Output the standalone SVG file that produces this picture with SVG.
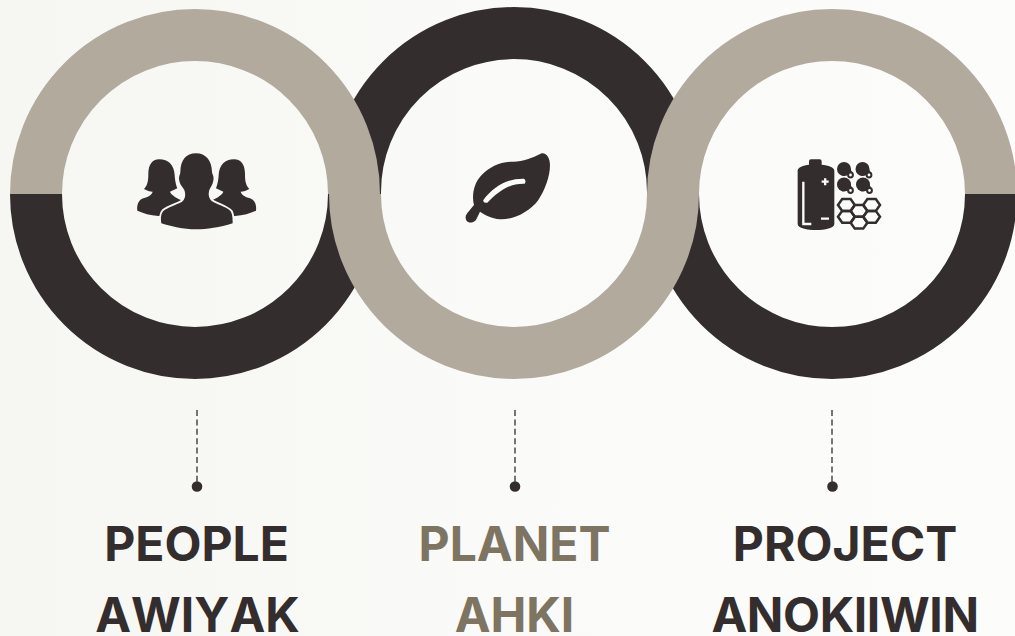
<svg xmlns="http://www.w3.org/2000/svg" width="1015" height="636" viewBox="0 0 1015 636">
<style>
.ring{fill:none;stroke-width:52}
.d{stroke:#332d2e}
.l{stroke:#b2aa9d}
.ic{fill:#332d2e}
.t{font-family:"Inter","Liberation Sans",sans-serif;font-weight:700;font-size:48px;text-anchor:middle;fill:#332d2e;font-kerning:none}
.p{fill:#7d7461}
.dash{stroke:#332d2e;stroke-width:1.3;stroke-dasharray:6 3.4;fill:none}
</style>
<defs>
<linearGradient id="bg" x1="0" x2="1" y1="0" y2="0"><stop offset="0" stop-color="#f6f6f2"/><stop offset=".5" stop-color="#fafaf8"/><stop offset="1" stop-color="#fcfcfa"/></linearGradient>
<g id="woman"><path class="ic" d="M118 58C145 58 162 75 164 105C165 125 170 140 172 145L150 155C152 162 165 172 182 180L190 220L115 228C90 226 70 220 52 212C50 195 55 180 70 175C85 170 95 165 98 155C90 155 80 152 72 147C85 135 85 115 85 100C86 75 95 58 118 58Z"/></g>
<path id="hex" fill="none" stroke="#332d2e" stroke-width="2.500" d="M-4.200-5.900H4.200L8.400 0L4.200 5.900H-4.200L-8.400 0Z"/>
<g id="bub"><circle r="7" class="ic"/><path class="ic" d="M4 -5L9 5L-2 7Z"/><circle cx="6.500" cy="6" r="2.400" fill="#fcfcfa" stroke="#332d2e" stroke-width="2"/></g>
</defs>
<rect width="1015" height="636" fill="url(#bg)"/>
<g id="node-planet-back"><path class="ring d" d="M355 196V192A159 159 0 0 1 673 192V196"/></g>
<g id="node-people">
<path class="ring l" d="M36 194A159 159 0 0 1 354 194"/>
<path class="ring d" d="M36 194A159 159 0 0 0 354 194"/>
<g transform="translate(120 140) scale(.3333)">
<use href="#woman"/>
<use href="#woman" transform="matrix(-1 0 0 1 460 0)"/>
<path class="ic" stroke="#f7f7f4" stroke-width="11" paint-order="stroke" d="M228 40C258 40 275 62 276 95C277 105 283 108 280 122C278 135 272 140 268 150C264 165 266 178 280 186C300 196 325 204 333 215C338 225 338 240 338 250C300 262 260 268 228 268C190 268 155 260 124 250C122 235 122 222 130 213C142 203 165 196 185 186C196 178 198 165 193 150C188 140 180 135 178 122C175 108 181 105 181 95C182 60 198 40 228 40Z"/>
</g>
</g>
<g id="node-project">
<path class="ring d" d="M673 194A159 159 0 0 0 991 194"/>
<path class="ring l" d="M673 194A159 159 0 0 1 991 194"/>
<g transform="translate(785 150) scale(.3333)">
<path class="ic" d="M72 44V34Q72 28 78 28H104Q110 28 110 34V44C130 46 148 52 148 62V222C148 235 120 240 93 240C66 240 38 235 38 222V62C38 52 55 46 72 44Z"/>
<path fill="none" stroke="#fcfcfa" stroke-width="7" d="M55 95V222H79"/>
<path fill="none" stroke="#fcfcfa" stroke-width="7" d="M110 95H131M120.500 85V106M108 206H132"/>
</g>
<use href="#bub" x="844" y="169"/><use href="#bub" x="862.500" y="169"/><use href="#bub" x="844" y="184.500"/><use href="#bub" x="863" y="184.500"/>
<use href="#hex" x="846.400" y="205"/><use href="#hex" x="846.400" y="216.800"/><use href="#hex" x="859" y="210.900"/><use href="#hex" x="859" y="222.700"/><use href="#hex" x="871.600" y="205"/><use href="#hex" x="871.600" y="216.800"/>
</g>
<g id="node-planet">
<path class="ring l" d="M355 194A159 159 0 0 0 673 194"/>
<g transform="translate(450 140) scale(.3333)">
<path class="ic" d="M275 40C290 38 300 55 300 75C300 110 285 150 265 180C240 215 190 240 150 238C125 235 105 225 90 215L78 240C62 256 45 245 47 230C48 222 60 210 72 195C65 170 70 130 95 105C120 80 150 65 190 65C220 65 245 55 275 40Z"/>
<path fill="#fbfbf9" d="M100 180C130 140 170 115 222 116Q230 122 224 131C180 130 150 150 112 188Q98 190 100 180Z"/>
</g>
</g>
<g id="connectors">
<path class="dash" d="M197 410V482M515 410V482M832 410V482"/>
<g fill="#332d2e"><circle cx="197" cy="486.500" r="5.300"/><circle cx="515" cy="486.500" r="5.300"/><circle cx="832.500" cy="486.500" r="5.300"/></g>
</g>
<g id="label-people"><text class="t" x="196.500" y="561">PEOPLE</text><text class="t" x="197.500" y="632">AWIYAK</text></g>
<g id="label-planet"><text class="t p" x="514.500" y="561">PLANET</text><text class="t p" x="514.500" y="632">AHKI</text></g>
<g id="label-project"><text class="t" x="845" y="561">PROJECT</text><text class="t" x="845" y="632" style="letter-spacing:-.4px">ANOKIIWIN</text></g>
</svg>
